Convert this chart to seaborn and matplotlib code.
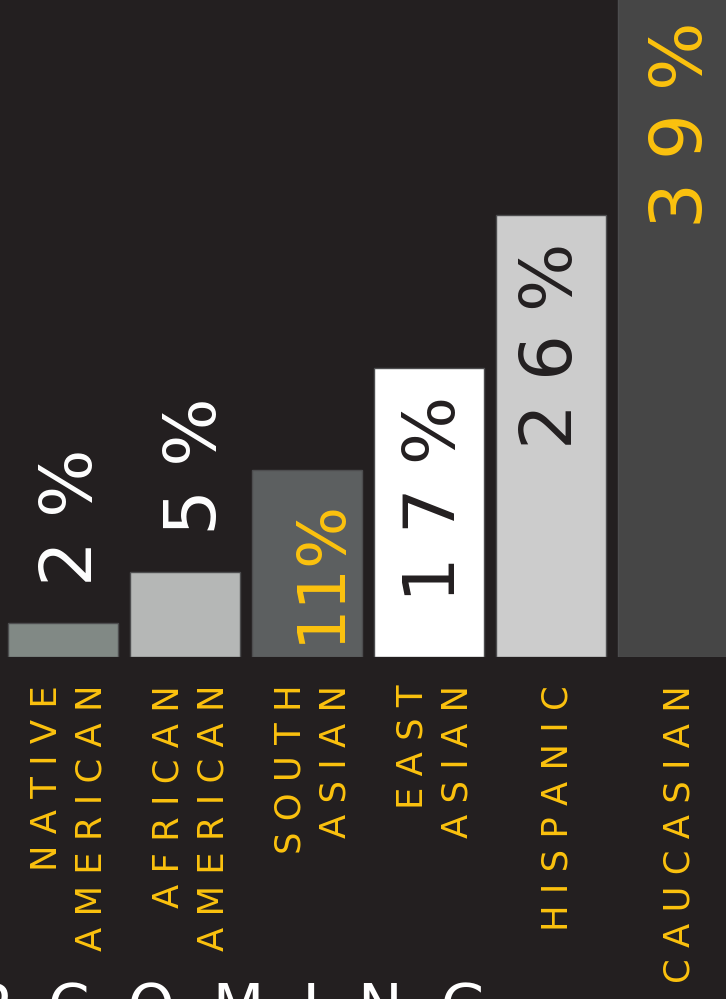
import matplotlib.pyplot as plt
import seaborn as sns
import pandas as pd
from matplotlib.transforms import ScaledTranslation

# data
categories = ['Native American', 'African American', 'South Asian',
              'East Asian', 'Hispanic', 'Caucasian']
values = [2, 5, 11, 17, 26, 39]

# styles
bg = '#231f20'
yellow = '#fcc20e'
bar_colors = ['#818985', '#b5b7b6', '#5c5f60', '#ffffff', '#cccccc', '#464646']
label_colors = ['#ffffff', '#ffffff', yellow, bg, bg, yellow]
label_sizes = [52, 52, 47, 52, 52, 52]
label_seps = [' ', ' ', '', ' ', ' ', ' ']
label_dx = [7, 8, 10, 5, 1, 7]  # points

df = pd.DataFrame({'group': categories, 'share': values})

sns.set_style('dark', {'axes.facecolor': bg, 'figure.facecolor': bg})
plt.rcParams['font.family'] = ['DejaVu Sans']

fig = plt.figure(figsize=(7.26, 9.99), dpi=100)
ax = fig.add_axes([0, 342 / 999, 1, 657 / 999])

sns.barplot(data=df, x='group', y='share', hue='group', palette=bar_colors,
            width=0.9, saturation=1, edgecolor='#4d4d4f', linewidth=1,
            legend=False, ax=ax)

ax.set_xlim(-0.516, 5.434)
ax.set_ylim(0, 38.65)
ax.set_xlabel('')
ax.set_ylabel('')
ax.set_yticks([])
ax.grid(False)
for s in ax.spines.values():
    s.set_visible(False)

# letter-spaced, rotated category labels
def spaced(word, sep=' '):
    return sep.join(word)

tick_labels = ['\n'.join(spaced(w) for w in c.upper().split()) for c in categories]
ax.set_xticks(range(len(categories)))
ax.set_xticklabels(tick_labels, rotation=90, color=yellow, fontsize=25.5,
                   linespacing=1.4)
ax.tick_params(axis='x', length=0, pad=20)
shift = ScaledTranslation(6 / 100, 0, fig.dpi_scale_trans)
for lab in ax.get_xticklabels():
    lab.set_multialignment('right')
    lab.set_transform(lab.get_transform() + shift)

# value labels: above short bars, inside tall ones
for i, v in enumerate(values):
    inside = v > 8
    ax.annotate(spaced(str(v), label_seps[i]) + label_seps[i] + '%',
                xy=(i, v), xytext=(label_dx[i], -20 if inside else 27),
                textcoords='offset points', rotation=90, ha='center',
                va='top' if inside else 'bottom', color=label_colors[i],
                fontsize=label_sizes[i], annotation_clip=False)

# big title cut off at the bottom edge
fig.text(487 / 726, -28 / 999, spaced('UPCOMING', '  '), ha='right',
         va='baseline', color='white', fontsize=43)

fig.savefig('out.png', dpi=100, facecolor=bg)
